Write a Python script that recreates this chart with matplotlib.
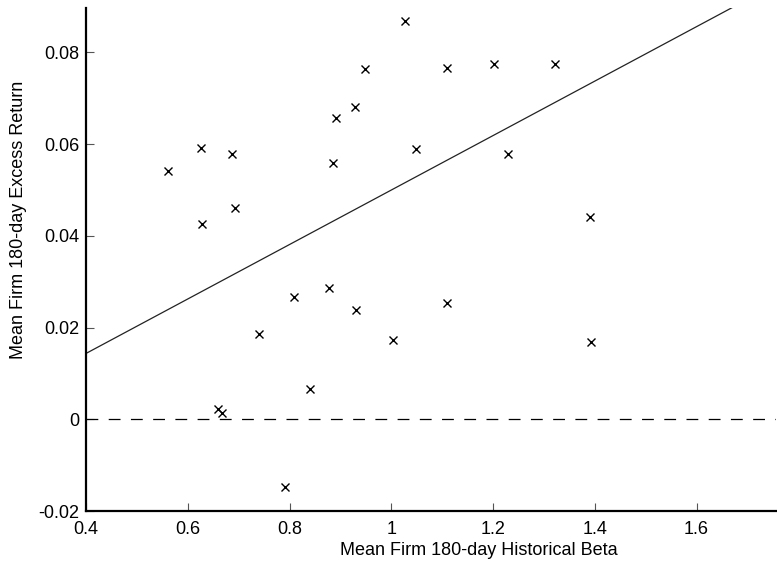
import numpy as np
import matplotlib
matplotlib.use("Agg")
import matplotlib.pyplot as plt

# Datos
beta = [0.561, 0.626, 0.687, 1.026, 0.949, 1.109, 1.202, 0.929, 0.892, 1.048,
        0.886, 1.229, 1.321, 0.627, 0.693, 0.808, 0.740, 0.878, 0.930, 1.004,
        1.110, 1.391, 1.393, 0.840, 0.660, 0.668, 0.792]
excess = [0.0541, 0.0592, 0.0578, 0.0868, 0.0765, 0.0766, 0.0775, 0.0681, 0.0657, 0.0590,
          0.0558, 0.0578, 0.0774, 0.0426, 0.0460, 0.0267, 0.0185, 0.0286, 0.0238, 0.0174,
          0.0253, 0.0441, 0.0169, 0.0065, 0.0022, 0.0013, -0.0147]

# Recta ajustada
intercept = -0.0094
slope = 0.0594

xticks = [0.4, 0.6, 0.8, 1.0, 1.2, 1.4, 1.6]
xticklabels = ["0.4", "0.6", "0.8", "1", "1.2", "1.4", "1.6"]
yticks = [-0.02, 0, 0.02, 0.04, 0.06, 0.08]
yticklabels = ["-0.02", "0", "0.02", "0.04", "0.06", "0.08"]

plt.rcParams["font.family"] = ["Liberation Sans", "DejaVu Sans"]
plt.rcParams["lines.scale_dashes"] = False

fig = plt.figure(figsize=(7.77, 5.62), dpi=100)
ax = fig.add_axes([86 / 777, 51 / 562, 690 / 777, 503 / 562])

xmin, xmax = 0.4, 1.756
ax.set_xlim(xmin, xmax)
ax.set_ylim(-0.02, 0.0897)

xs = np.array([xmin, xmax])
ax.plot(xs, intercept + slope * xs, color="#222222", lw=0.9)
ax.plot(xs, [0, 0], color="black", lw=0.9, dashes=(8.5, 7.5))
ax.plot(beta, excess, "x", color="black", ms=6, mew=1.0, ls="none")

ax.spines["top"].set_visible(False)
ax.spines["right"].set_visible(False)
ax.spines["left"].set_linewidth(1.6)
ax.spines["bottom"].set_linewidth(1.6)

ax.set_xticks(xticks)
ax.set_xticklabels(xticklabels)
ax.set_yticks(yticks)
ax.set_yticklabels(yticklabels)
ax.tick_params(direction="in", length=6, width=0.8, color="#555555",
               labelsize=13, pad=5)
ax.tick_params(axis="x", pad=7)

ax.set_xlabel("Mean Firm 180-day Historical Beta", fontsize=13)
ax.set_ylabel("Mean Firm 180-day Excess Return", fontsize=13)
# posiciones de las etiquetas como en el original (no centradas)
ax.xaxis.set_label_coords(0.57, -0.062)
ax.yaxis.set_label_coords(-0.086, 0.578)

fig.savefig("out.png", dpi=100)
